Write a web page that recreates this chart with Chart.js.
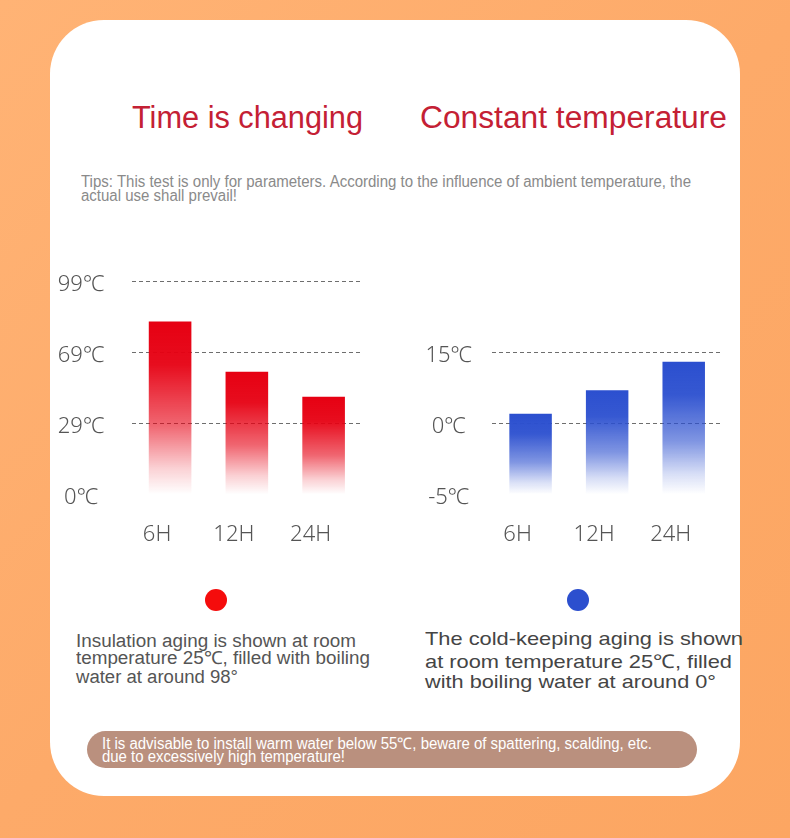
<!DOCTYPE html>
<html>
<head>
<meta charset="utf-8">
<script src="https://cdn.jsdelivr.net/npm/chart.js@4.4.0/dist/chart.umd.min.js"></script>
<style>
  html, body { margin: 0; padding: 0; }
  body {
    width: 790px; height: 838px; position: relative; overflow: hidden;
    background: linear-gradient(135deg, #ffb375 0%, #fdaa69 50%, #fca662 100%);
    font-family: 'Liberation Sans', Arial, sans-serif;
  }
  #card { position: absolute; left: 50px; top: 20px; width: 690px; height: 776px; background: #fff; border-radius: 54px; }
  .ln { position: absolute; white-space: nowrap; line-height: 1; transform-origin: 0 0; }
  .title { font-size: 31px; color: #c42034; }
  .tips { font-size: 16px; color: #8a8a8a; }
  .descl { font-size: 18px; color: #555; }
  .descr { font-size: 19px; color: #454545; }
  .pilltxt { font-size: 16px; color: #fff; }
  #pill { position: absolute; left: 87px; top: 731px; width: 610px; height: 37px; border-radius: 19px; background: #ba907e; }
  .dot { position: absolute; width: 22px; height: 22px; border-radius: 50%; }
  .wrap { position: absolute; top: 260px; height: 290px; }
</style>
</head>
<body>
<div id="card"></div>

<div class="ln title" style="left:132px; top:102px" data-w="231">Time is changing</div>
<div class="ln title" style="left:420px; top:102px" data-w="307">Constant temperature</div>

<div class="ln tips" style="left:81px; top:174px" data-w="610">Tips: This test is only for parameters. According to the influence of ambient temperature, the</div>
<div class="ln tips" style="left:81px; top:188px" data-w="156">actual use shall prevail!</div>

<div class="wrap" style="left:50px; width:330px"><canvas id="hot" width="330" height="290"></canvas></div>
<div class="wrap" style="left:400px; width:340px"><canvas id="cold" width="340" height="290"></canvas></div>

<div class="dot" style="left:205px; top:589px; background:#f50c0c"></div>
<div class="dot" style="left:567px; top:589px; background:#2c4fce"></div>

<div class="ln descl" style="left:76px; top:631.5px" data-w="280">Insulation aging is shown at room</div>
<div class="ln descl" style="left:76px; top:649px" data-w="294">temperature 25℃, filled with boiling</div>
<div class="ln descl" style="left:76px; top:667.5px" data-w="162">water at around 98°</div>

<div class="ln descr" style="left:425px; top:629px" data-w="318">The cold-keeping aging is shown</div>
<div class="ln descr" style="left:425px; top:651.5px" data-w="307">at room temperature 25℃, filled</div>
<div class="ln descr" style="left:425px; top:672px" data-w="291">with boiling water at around 0°</div>

<div id="pill"></div>
<div class="ln pilltxt" style="left:102px; top:735.5px" data-w="550">It is advisable to install warm water below 55℃, beware of spattering, scalding, etc.</div>
<div class="ln pilltxt" style="left:102px; top:749px" data-w="243">due to excessively high temperature!</div>

<script>
// data
const hours = ['6H', '12H', '24H'];
const hotTicks = [0, 29, 69, 99];
const hotTemps = [82, 58, 44];
const coldTicks = [-5, 0, 15];
const coldTemps = [2, 7, 13];

// tick values are equally spaced on the axis, whatever their numbers
class StepScale extends Chart.LinearScale {
    determineDataLimits() {
        const stops = this.options.stops;
        this.min = stops[0];
        this.max = stops[stops.length - 1];
    }
    buildTicks() {
        return this.options.stops.map(v => ({value: v}));
    }
    getPixelForValue(value) {
        const s = this.options.stops;
        const n = s.length - 1;
        let i = 0;
        while (i < n - 1 && value > s[i + 1]) i++;
        const d = (i + (value - s[i]) / (s[i + 1] - s[i])) / n;
        return this.getPixelForDecimal(d);
    }
    getValueForPixel(pixel) {
        const s = this.options.stops;
        const n = s.length - 1;
        const d = this.getDecimalForPixel(pixel) * n;
        const i = Math.max(0, Math.min(n - 1, Math.floor(d)));
        return s[i] + (d - i) * (s[i + 1] - s[i]);
    }
}
StepScale.id = 'step';
StepScale.defaults = {};
Chart.register(StepScale);

function fade(rgb, base) {
    return function (c) {
        const chart = c.chart;
        if (!chart.chartArea || c.type !== 'data') return 'rgb(' + rgb + ')';
        const y = chart.scales.y;
        const top = y.getPixelForValue(c.parsed.y);
        const bottom = y.getPixelForValue(base);
        const g = chart.ctx.createLinearGradient(0, top, 0, bottom);
        g.addColorStop(0, 'rgba(' + rgb + ',1)');
        g.addColorStop(0.25, 'rgba(' + rgb + ',0.95)');
        g.addColorStop(0.6, 'rgba(' + rgb + ',0.6)');
        g.addColorStop(0.85, 'rgba(' + rgb + ',0.18)');
        g.addColorStop(1, 'rgba(' + rgb + ',0)');
        return g;
    };
}

const tickFont = {family: "'Noto Sans', sans-serif", size: 22, weight: '300'};

function makeChart(id, stops, temps, rgb, yWidth, topPad, tickPad) {
    return new Chart(document.getElementById(id), {
        type: 'bar',
        data: {
            labels: hours,
            datasets: [{
                data: temps,
                base: stops[0],
                backgroundColor: fade(rgb, stops[0]),
                borderWidth: 0,
                categoryPercentage: 1,
                barPercentage: 0.555
            }]
        },
        options: {
            responsive: false,
            animation: false,
            layout: {padding: {top: topPad, right: 18, bottom: 0, left: 0}},
            plugins: {legend: {display: false}, tooltip: {enabled: false}},
            scales: {
                x: {
                    grid: {display: false, drawTicks: false},
                    border: {display: false},
                    ticks: {color: '#555', font: tickFont, padding: 27, labelOffset: -13},
                    afterFit: s => { s.height = 55.7; }
                },
                y: {
                    type: 'step',
                    stops: stops,
                    grid: {
                        drawTicks: false,
                        lineWidth: 1,
                        color: c => (c.tick && c.tick.value === stops[0]) ? 'rgba(0,0,0,0)' : '#6e6e6e'
                    },
                    border: {display: false, dash: [4, 3]},
                    ticks: {
                        color: '#555',
                        font: tickFont,
                        padding: tickPad,
                        labelOffset: 3,
                        crossAlign: 'center',
                        autoSkip: false,
                        callback: v => v + '℃'
                    },
                    afterFit: s => {
                        s.width = yWidth;
                        // label padding must not push the plot area down
                        s.paddingTop = 12;
                        s.paddingBottom = 12;
                    }
                }
            }
        }
    });
}

makeChart('hot', hotTicks, hotTemps, '230,0,18', 81.7, 21.3, 27);
makeChart('cold', coldTicks, coldTemps, '43,79,207', 92.3, 92.3, 20);

// squeeze / stretch each text line to the measured width
for (const el of document.querySelectorAll('.ln')) {
    const w = parseFloat(el.dataset.w);
    const actual = el.getBoundingClientRect().width;
    el.style.transform = 'scaleX(' + (w / actual) + ')';
}
</script>
</body>
</html>
